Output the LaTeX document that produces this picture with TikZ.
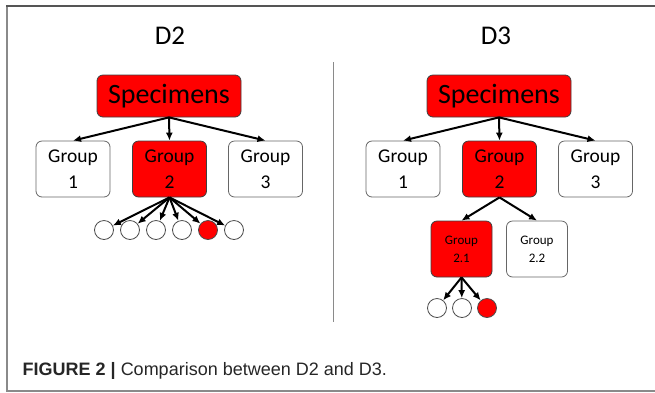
\documentclass[tikz,border=0pt]{standalone}
\usepackage{fontspec}
\setmainfont{Carlito}
\newfontfamily\capfont{Liberation Sans}
\usetikzlibrary{arrows.meta}
\definecolor{frm}{HTML}{8A8A8A}
\definecolor{frmtop}{HTML}{555555}
\definecolor{redfill}{HTML}{FF0000}
\tikzset{
  box/.style={draw=black!75, line width=0.8pt, rounded corners=6pt, inner sep=0pt, align=center},
  redbox/.style={box, fill=redfill},
  whitebox/.style={box, fill=white, draw=black!60},
  specbox/.style={redbox, minimum width=144pt, minimum height=42pt, font=\fontsize{28}{30}\selectfont},
  grpbox/.style={minimum width=74pt, minimum height=56pt, font=\fontsize{19.5}{26}\selectfont},
  subbox/.style={minimum width=61pt, minimum height=56pt, font=\fontsize{13}{18}\selectfont},
  leaf/.style={circle, draw=black!70, line width=0.8pt, minimum size=19pt, inner sep=0pt, fill=white},
  redleaf/.style={leaf, fill=redfill},
  conn/.style={-{Latex[length=8pt,width=7pt]}, line width=2pt, black},
  ttl/.style={font=\fontsize{27}{30}\selectfont}
}
\begin{document}
\begin{tikzpicture}[x=1pt,y=-1pt]
\useasboundingbox (0,0) rectangle (655,392);
\draw[frm, line width=1.2pt] (7,6) -- (7,391) -- (660,391);
\draw[frmtop, line width=1.6pt] (6.4,6) -- (660,6);
\draw[frm, line width=1pt] (333,62) -- (333,322);
% D2
\node[ttl] (t2) at (170,36) {D2};
\node[specbox] (s2) at (169,96) {Specimens};
\node[whitebox, grpbox] (g21) at (73,169) {Group\\1};
\node[redbox, grpbox] (g22) at (169.5,169) {Group\\2};
\node[whitebox, grpbox] (g23) at (265.5,169) {Group\\3};
\draw[conn] (s2.south) -- (g21.north);
\draw[conn] (s2.south) -- (g22.north);
\draw[conn] (s2.south) -- (g23.north);
\node[leaf] (c1) at (104,230) {};
\node[leaf] (c2) at (130,230) {};
\node[leaf] (c3) at (156,230) {};
\node[leaf] (c4) at (182,230) {};
\node[redleaf] (c5) at (208,230) {};
\node[leaf] (c6) at (234,230) {};
\foreach \c in {c1,c2,c3,c4,c5,c6} \draw[conn] (g22.south) -- (\c);
% D3
\node[ttl] (t3) at (496,36) {D3};
\node[specbox] (s3) at (499,96) {Specimens};
\node[whitebox, grpbox] (g31) at (403,169) {Group\\1};
\node[redbox, grpbox] (g32) at (499.5,169) {Group\\2};
\node[whitebox, grpbox] (g33) at (595.5,169) {Group\\3};
\draw[conn] (s3.south) -- (g31.north);
\draw[conn] (s3.south) -- (g32.north);
\draw[conn] (s3.south) -- (g33.north);
\node[redbox, subbox] (g321) at (461.5,249) {Group\\2.1};
\node[whitebox, subbox] (g322) at (537,249) {Group\\2.2};
\draw[conn] (g32.south) -- (g321.north);
\draw[conn] (g32.south) -- (g322.north);
\node[leaf] (d1) at (437,308) {};
\node[leaf] (d2) at (462,308) {};
\node[redleaf] (d3) at (487,308) {};
\foreach \c in {d1,d2,d3} \draw[conn] (g321.south) -- (\c);
% caption
\node[anchor=base west, inner sep=0pt, text=black!85, font=\capfont\fontsize{18}{20}\selectfont] (cap) at (22.5,375) {\textbf{FIGURE 2 |} Comparison between D2 and D3.};
\end{tikzpicture}
\end{document}
